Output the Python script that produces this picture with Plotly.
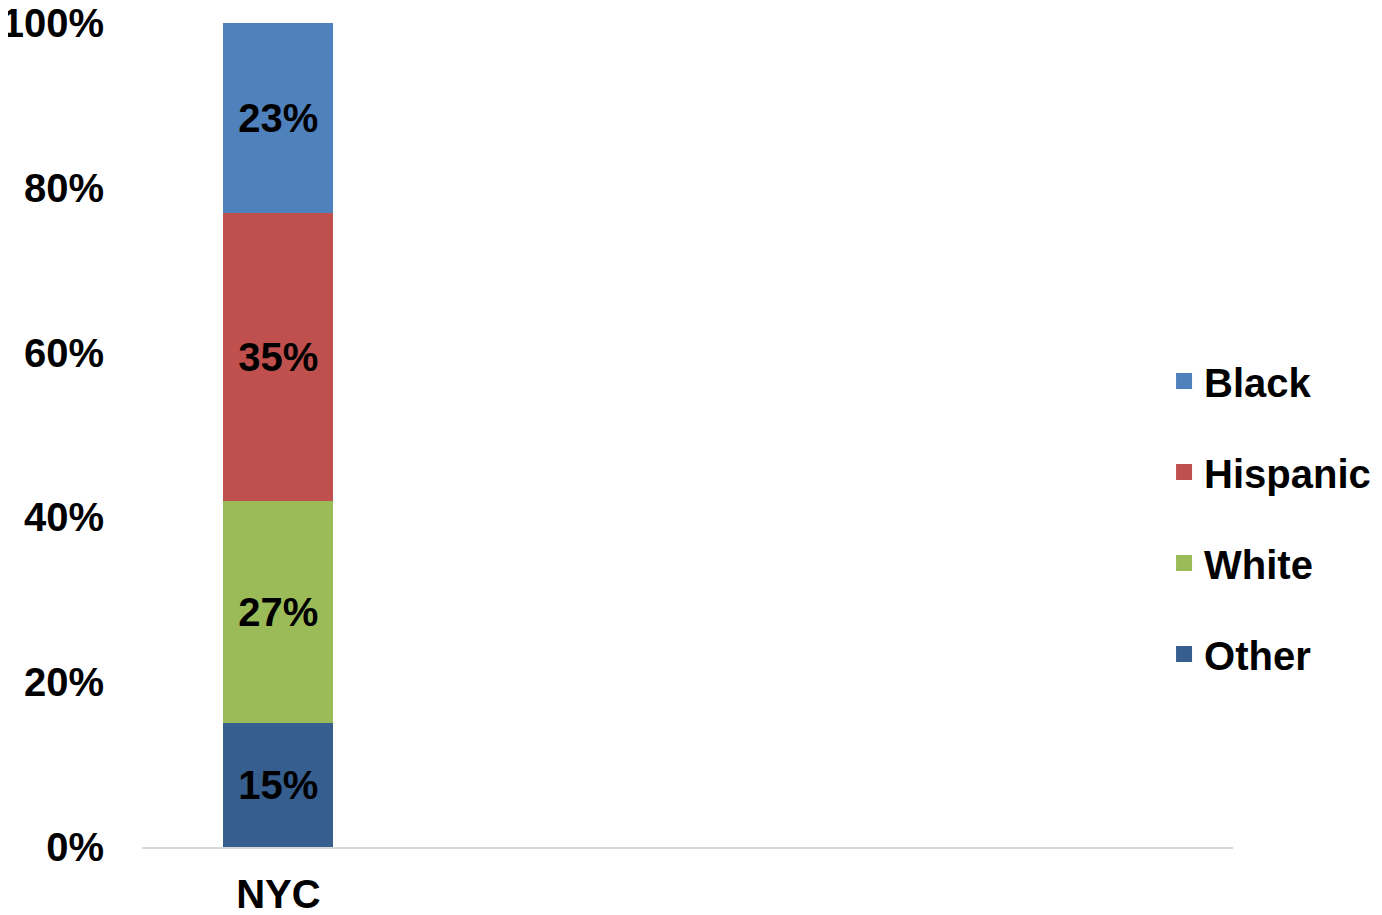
import plotly.graph_objects as go

# one real bar plus three empty slots, as in the source sheet
categories = ["NYC", " ", "  ", "   "]
groups = ["Other", "White", "Hispanic", "Black"]
shares = {
    "Other": [0.15, None, None, None],
    "White": [0.27, None, None, None],
    "Hispanic": [0.35, None, None, None],
    "Black": [0.23, None, None, None],
}
colors = {
    "Other": "#365E8F",
    "White": "#9BBB59",
    "Hispanic": "#C0504D",
    "Black": "#4F81BD",
}
legend_rank = {"Black": 1, "Hispanic": 2, "White": 3, "Other": 4}

fig = go.Figure()
for g in groups:
    fig.add_trace(go.Bar(
        x=categories,
        y=shares[g],
        name=g,
        legendgroup=g,
        showlegend=False,
        marker=dict(color=colors[g], line=dict(width=0)),
        texttemplate="%{y:.0%}",
        textposition="inside",
        insidetextanchor="middle",
        textangle=0,
        constraintext="none",
        textfont=dict(size=40, color="black", weight="bold"),
    ))
    # legend-only entry so the swatch can be bigger than the bar default
    fig.add_trace(go.Scatter(
        x=[None], y=[None],
        mode="markers",
        name=g,
        legendgroup=g,
        legendrank=legend_rank[g],
        marker=dict(symbol="square", size=22, color=colors[g], line=dict(width=0)),
        hoverinfo="skip",
    ))

# margins account for the 8px body margin of the html page
fig.update_layout(
    barmode="stack",
    bargap=0.597,
    width=1382,
    height=915,
    paper_bgcolor="white",
    plot_bgcolor="white",
    font=dict(family="Liberation Sans, Arial, sans-serif", size=40, color="black", weight="bold"),
    margin=dict(l=134, r=157, t=15, b=76, autoexpand=False),
    showlegend=True,
    legend=dict(
        x=0.9368, xanchor="left",
        y=0.400, yanchor="middle",
        traceorder="grouped",
        tracegroupgap=36,
        font=dict(size=40),
        bgcolor="rgba(0,0,0,0)",
    ),
)
fig.update_yaxes(
    range=[0, 1],
    dtick=0.2,
    tickformat=".0%",
    showgrid=False,
    zeroline=False,
    showline=False,
    automargin=False,
    ticklabelstandoff=37,
    ticklabeloverflow="allow",
)
fig.update_xaxes(
    showline=True,
    linecolor="#D9D9D9",
    linewidth=2,
    showgrid=False,
    ticks="",
    automargin=False,
    ticklabelstandoff=11,
    ticklabeloverflow="allow",
)

fig.write_html("out.html")
